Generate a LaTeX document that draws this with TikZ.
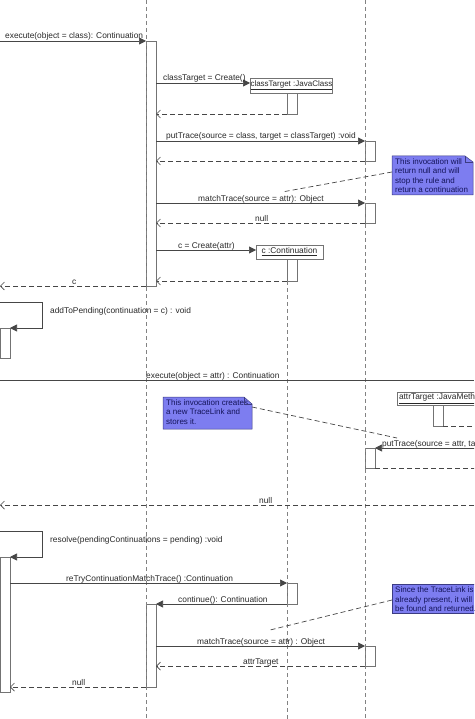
\documentclass[tikz,border=0pt]{standalone}
\usepackage{fontspec}
\setmainfont{Liberation Sans}
\usetikzlibrary{arrows.meta,calc}
\definecolor{linec}{RGB}{70,70,70}
\definecolor{lifec}{RGB}{130,130,130}
\definecolor{actc}{RGB}{115,115,115}
\definecolor{notefill}{RGB}{125,125,240}
\definecolor{notetext}{RGB}{20,20,90}
\definecolor{noteline}{RGB}{60,60,130}
\definecolor{labc}{RGB}{40,40,40}
\newcommand\lblfont{\fontsize{8.35}{9.5}\selectfont}
\newcommand\notefont{\fontsize{8}{9.5}\selectfont}
\newcommand\objfont{\fontsize{8}{9.5}\selectfont}
\tikzset{
 lifeline/.style={draw=lifec, line width=0.8pt, dash pattern=on 4pt off 3pt},
 actbar/.style={draw=actc, fill=white, line width=0.7pt, minimum width=10pt, inner sep=0pt, outer sep=0pt, anchor=north west},
 objbox/.style={draw=actc, fill=white, line width=0.7pt, inner xsep=0.5pt, inner ysep=0pt, outer sep=0pt, anchor=north west, font=\objfont, text=labc},
 msg/.style={draw=linec, line width=0.7pt, -{Triangle[length=7pt,width=7pt]}},
 ret/.style={draw=linec, line width=0.7pt, dash pattern=on 5pt off 3pt, -{Straight Barb[length=4pt,width=8pt]}},
 lbl/.style={font=\lblfont, text=labc, inner sep=0pt, anchor=base west},
 notebody/.style={fill=notefill, draw=noteline, line width=0.5pt},
 notefold/.style={draw=noteline, line width=0.5pt},
 notetxt/.style={font=\notefont, text=notetext, inner sep=0pt, anchor=north west, align=left},
 notelink/.style={draw=linec, line width=0.7pt, dash pattern=on 5pt off 3pt},
 plainline/.style={draw=linec, line width=0.7pt},
}
\begin{document}
\begin{tikzpicture}[x=1pt,y=-1pt]
\useasboundingbox (0,0) rectangle (474,719);
\clip (0,0) rectangle (474,719);

% ---------- activation bars and object boxes ----------
\node[actbar, minimum height=245pt] (a1) at (146,41) {};
\node[objbox, minimum height=15pt] (o1) at (250,78) {\underline{classTarget :JavaClass}};
\node[actbar, minimum height=21pt] (a2) at (287,93) {};
\node[actbar, minimum height=20pt] (a3) at (365,141) {};
\node[actbar, minimum height=20pt] (a3b) at (365,203) {};
\node[objbox, minimum height=14pt, minimum width=67pt, font=\lblfont] (o2) at (256,245) {\underline{c :Continuation}};
\node[actbar, minimum height=22pt] (a4) at (287,259) {};
\node[actbar, minimum height=30pt] (aL1) at (0,328) {};
\node[objbox, minimum height=13pt, inner xsep=2pt, font=\lblfont] (o3) at (397,392) {\underline{attrTarget :JavaMethod}};
\node[actbar, minimum height=21pt] (a5) at (433,405) {};
\node[actbar, minimum height=20pt] (a6) at (365,448) {};
\node[actbar, minimum height=135pt] (aL2) at (0,557) {};
\node[actbar, minimum height=21pt] (a7) at (287,583) {};
\node[actbar, minimum height=83pt] (a8) at (146,604) {};
\node[actbar, minimum height=20pt] (a9) at (365,646) {};

% ---------- lifelines ----------
\coordinate (L1top) at (146,0); \coordinate (L1bot) at (146,719);
\coordinate (L3top) at (365,0); \coordinate (L3bot) at (365,719);
\coordinate (Lcbot) at (287,719);
\draw[lifeline] (L1top) -- (L1bot);
\draw[lifeline] (L3top) -- (L3bot);
\draw[lifeline] (a4.south west) -- (Lcbot);

% ---------- first execute ----------
\coordinate (s0) at (0,41);
\draw[msg] (s0) -- (a1.north west);
\node[lbl] (t0) at (5,39) {execute(object = class): Continuation};

\coordinate (m1) at (0,83);
\draw[msg] (a1.east |- m1) -- (o1.west |- m1);
\node[lbl] (t1) at (163,81) {classTarget = Create()};
\draw[ret] (a2.south west) -- (a1.east |- a2.south west);

\draw[msg] (a1.east |- a3.north west) -- (a3.north west);
\node[lbl] (t2) at (166,139) {putTrace(source = class, target = classTarget) :void};
\draw[ret] (a3.south west) -- (a1.east |- a3.south west);

\draw[msg] (a1.east |- a3b.north west) -- (a3b.north west);
\node[lbl] (t3) at (198,201) {matchTrace(source = attr): Object};
\draw[ret] (a3b.south west) -- (a1.east |- a3b.south west);
\node[lbl] (t4) at (255,221.5) {null};

\coordinate (m2) at (0,250);
\draw[msg] (a1.east |- m2) -- (o2.west |- m2);
\node[lbl] (t5) at (178,248) {c = Create(attr)};
\draw[ret] (a4.south west) -- (a1.east |- a4.south west);

\coordinate (r0) at (0,286);
\draw[ret] (a1.south west) -- (r0);
\node[lbl] (t6) at (72,284.5) {c};

\coordinate (sc1) at (0,302);
\draw[msg] (sc1) -- ++(42,0) |- (aL1.north east);
\node[lbl, anchor=west] (t7) at (50,311) {addToPending(continuation = c) : void};

% ---------- second execute ----------
\coordinate (e0) at (0,380); \coordinate (e1) at (474,380);
\draw[plainline] (e0) -- (e1);
\node[lbl] (t8) at (146,378) {execute(object = attr) : Continuation};

\coordinate (x5) at (482,426);
\draw[ret] (a5.south east) -- (x5);
\coordinate (p5) at (482,448);
\draw[msg] (p5) -- (a6.north east);
\node[lbl] (t9) at (382,446) {putTrace(source = attr, target = attrTarget) :void};
\coordinate (x6) at (482,468);
\draw[ret] (a6.south east) -- (x6);

\coordinate (nr0) at (482,505); \coordinate (nr1) at (0,505);
\draw[ret] (nr0) -- (nr1);
\node[lbl] (t10) at (259,503.5) {null};

\coordinate (sc2) at (0,531);
\draw[msg] (sc2) -- ++(42,0) |- (aL2.north east);
\node[lbl, anchor=west] (t11) at (50,540) {resolve(pendingContinuations = pending) :void};

\coordinate (m3) at (0,583);
\draw[msg] (aL2.east |- m3) -- (a7.north west);
\node[lbl] (t12) at (66,581) {reTryContinuationMatchTrace() :Continuation};
\draw[msg] (a7.south west) -- (a8.north east);
\node[lbl] (t13) at (178,602) {continue(): Continuation};
\draw[msg] (a8.east |- a9.north west) -- (a9.north west);
\node[lbl] (t14) at (197,644) {matchTrace(source = attr) : Object};
\draw[ret] (a9.south west) -- (a8.east |- a9.south west);
\node[lbl] (t15) at (243,664.5) {attrTarget};
\draw[ret] (a8.south west) -- (aL2.east |- a8.south west);
\node[lbl] (t16) at (72,685.5) {null};

% ---------- notes ----------
% note 1
\coordinate (n1nw) at (392,156); \coordinate (n1se) at (473,195);
\draw[notebody] (n1nw) -- ($(n1se|-n1nw)+(-8,0)$) -- ($(n1se|-n1nw)+(0,6)$) -- (n1se) -- (n1nw|-n1se) -- cycle;
\draw[notefold] ($(n1se|-n1nw)+(-8,0)$) -- ($(n1se|-n1nw)+(-8,6)$) -- ($(n1se|-n1nw)+(0,6)$);
\node[notetxt] (n1) at (395,158.5) {This invocation will\\return null and will\\stop the rule and\\return a continuation};
\coordinate (c1) at (282,192);
\draw[notelink] ($(n1nw)+(0,16)$) -- (c1);

% note 2
\coordinate (n2nw) at (163,397); \coordinate (n2se) at (252,429);
\draw[notebody] (n2nw) -- ($(n2se|-n2nw)+(-8,0)$) -- ($(n2se|-n2nw)+(0,7)$) -- (n2se) -- (n2nw|-n2se) -- cycle;
\node[notetxt] (n2) at (166,399.5) {This invocation creates\\a new TraceLink and\\stores it.};
\draw[notefold] ($(n2se|-n2nw)+(-8,0)$) -- ($(n2se|-n2nw)+(-8,7)$) -- ($(n2se|-n2nw)+(0,7)$);
\coordinate (c2) at (397,438);
\draw[notelink] ($(n2se|-n2nw)+(0,10)$) -- (c2);

% note 3
\coordinate (n3nw) at (392,584); \coordinate (n3se) at (490,613);
\draw[notebody] (n3nw) rectangle (n3se);
\node[notetxt] (n3) at (395,586.5) {Since the TraceLink is\\already present, it will\\be found and returned.};
\coordinate (c3) at (270,630);
\draw[notelink] ($(n3nw)+(0,16)$) -- (c3);
\end{tikzpicture}
\end{document}
